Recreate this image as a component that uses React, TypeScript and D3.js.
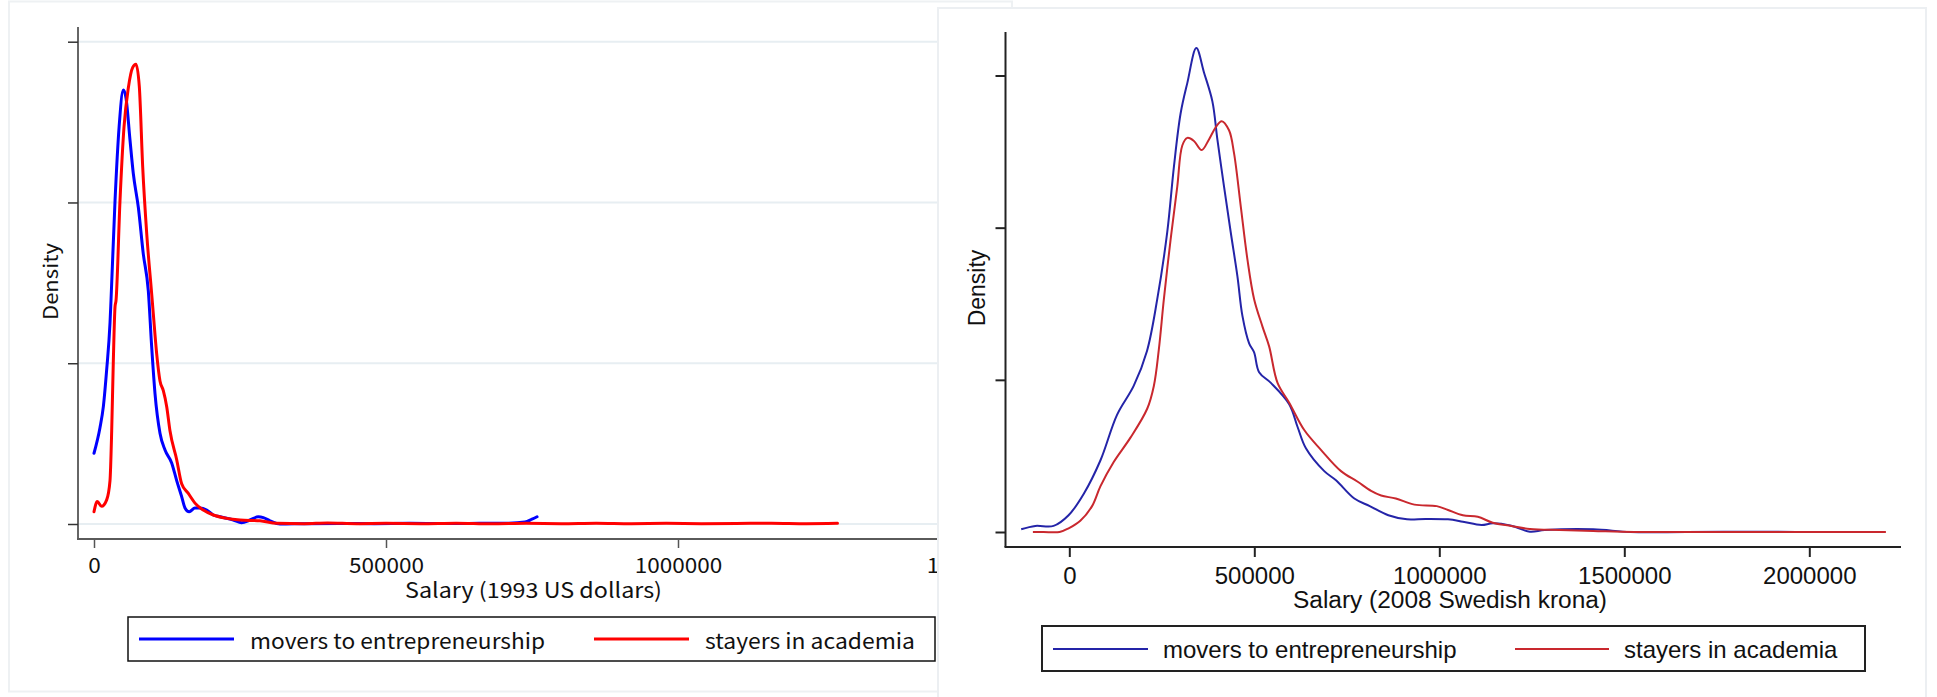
import React, { useEffect, useRef } from 'react';
import * as d3 from 'd3';

// left panel: 1993 US dollars (density in arbitrary units, ticks unlabeled)
const leftMoversX = [0, 10300, 16000, 21700, 27400, 29100, 36000, 43000, 50200, 54800, 61600, 67300, 75900, 84400, 93000, 98800, 104500, 113000, 121600, 133000, 141600, 150100, 155800, 163000, 172900, 181500, 192900, 204300, 215800, 238500, 252800, 267000, 281300, 290000, 301400, 318500, 360000, 420000, 480000, 540000, 600000, 660000, 710000, 738000, 750000, 758600];
const leftMoversY = [0.44, 0.6, 0.73, 0.96, 1.25, 1.39, 2.01, 2.47, 2.7, 2.65, 2.39, 2.18, 1.97, 1.68, 1.45, 1.1, 0.81, 0.565, 0.46, 0.38, 0.27, 0.17, 0.1, 0.076, 0.1, 0.1, 0.087, 0.056, 0.045, 0.025, 0.008, 0.025, 0.045, 0.04, 0.02, 0.0, 0.002, 0.003, 0.002, 0.004, 0.003, 0.004, 0.005, 0.012, 0.03, 0.045];

const leftStayersX = [0, 5600, 13000, 21700, 27400, 30300, 33000, 36000, 37700, 44500, 51400, 58700, 66300, 71900, 77600, 83400, 90200, 98800, 101500, 107300, 113000, 118700, 124500, 130100, 141600, 150100, 161500, 172900, 187100, 204300, 227200, 250000, 284200, 312800, 360000, 400000, 450000, 500000, 560000, 620000, 680000, 740000, 800000, 860000, 920000, 980000, 1040000, 1100000, 1160000, 1220000, 1273000];
const leftStayersY = [0.076, 0.14, 0.11, 0.15, 0.27, 0.58, 1.0, 1.35, 1.39, 2.01, 2.47, 2.71, 2.84, 2.86, 2.72, 2.22, 1.81, 1.43, 1.31, 1.06, 0.89, 0.83, 0.73, 0.58, 0.4, 0.25, 0.19, 0.13, 0.087, 0.056, 0.035, 0.025, 0.02, 0.004, 0.002, 0.006, 0.002, 0.004, 0.002, 0.005, 0.001, 0.004, 0.002, 0.005, 0.002, 0.004, 0.002, 0.003, 0.005, 0.002, 0.004];

const leftXTicks = [0, 500000, 1000000, 1500000];
const leftYTicks = [0, 1, 2, 3];

// right panel: 2008 Swedish krona
const rightMoversX = [-130000, -92000, -42500, -2000, 38800, 84000, 129000, 174000, 210000, 237700, 264700, 282700, 300800, 318900, 343300, 364000, 386700, 400200, 418200, 436300, 454400, 467900, 486000, 499500, 513000, 544700, 594300, 617000, 639500, 689100, 720800, 770400, 812000, 862300, 912700, 962900, 1023500, 1063700, 1114000, 1144400, 1194800, 1244900, 1285400, 1416200, 1517000, 1668000, 1899000, 1965000];
const rightMoversY = [0.018, 0.04, 0.04, 0.11, 0.25, 0.47, 0.77, 0.96, 1.19, 1.53, 1.97, 2.4, 2.75, 2.95, 3.18, 3.02, 2.83, 2.58, 2.27, 1.97, 1.68, 1.42, 1.24, 1.18, 1.05, 0.98, 0.84, 0.69, 0.55, 0.4, 0.34, 0.22, 0.17, 0.11, 0.083, 0.086, 0.083, 0.068, 0.046, 0.057, 0.041, 0.002, 0.013, 0.018, 0.0, 0.0, 0.002, 0.0];

const rightStayersX = [-98400, -69600, -26300, -1900, 29800, 61500, 84000, 120000, 165300, 210500, 228500, 242000, 255600, 273700, 291800, 305400, 318900, 336900, 357700, 377500, 395700, 411900, 431700, 445200, 463400, 481500, 499500, 522100, 540100, 562800, 594300, 635000, 680100, 734300, 779500, 815600, 842700, 882400, 932800, 993200, 1023500, 1063700, 1104000, 1144400, 1194800, 1244900, 1325600, 1416200, 1527000, 1768800, 2207000];
const rightStayersY = [0, 0, 0, 0.024, 0.074, 0.17, 0.3, 0.46, 0.62, 0.81, 0.96, 1.2, 1.53, 1.92, 2.27, 2.54, 2.59, 2.57, 2.51, 2.58, 2.66, 2.7, 2.64, 2.49, 2.14, 1.79, 1.53, 1.35, 1.22, 0.98, 0.85, 0.67, 0.54, 0.4, 0.33, 0.27, 0.24, 0.22, 0.18, 0.17, 0.145, 0.11, 0.1, 0.061, 0.04, 0.02, 0.013, 0.007, 0, 0, 0];

const rightXTicks = [0, 500000, 1000000, 1500000, 2000000];
const rightYTicks = [0, 1, 2, 3];

const seriesNames = ['movers to entrepreneurship', 'stayers in academia'];

const W = 1937;
const H = 697;
const jpFont = '"Noto Sans CJK JP", "Noto Sans", sans-serif';
const arial = '"Liberation Sans", Arial, sans-serif';

const zip = (xs: number[], ys: number[]) => xs.map((x, i) => [x, ys[i]] as [number, number]);

const App = () => {
  const svgRef = useRef<SVGSVGElement>(null);

  useEffect(() => {
    const svg = d3.select(svgRef.current);
    svg.selectAll('*').remove();

    // panel frames
    svg.append('rect').attr('x', 9).attr('y', 1.5).attr('width', 1003).attr('height', 690)
      .attr('fill', '#fff').attr('stroke', '#eef1f3').attr('stroke-width', 2);

    // ---------- left panel ----------
    svg.append('clipPath').attr('id', 'clipL')
      .append('rect').attr('x', 0).attr('y', 0).attr('width', 938).attr('height', H);
    const gL = svg.append('g').attr('clip-path', 'url(#clipL)');

    const xL = d3.scaleLinear().domain([0, 1000000]).range([94, 678]);
    const yL = d3.scaleLinear().domain([0, 3]).range([524, 41.7]);

    gL.selectAll('.grid').data(leftYTicks).enter().append('line')
      .attr('x1', 79).attr('x2', 937)
      .attr('y1', d => yL(d)).attr('y2', d => yL(d))
      .attr('stroke', '#e7eef2').attr('stroke-width', 2);

    const lineL = d3.line<[number, number]>()
      .x(d => xL(d[0])).y(d => yL(d[1]))
      .curve(d3.curveMonotoneX);

    gL.append('path').datum(zip(leftMoversX, leftMoversY))
      .attr('d', lineL).attr('fill', 'none').attr('stroke', '#0000ff')
      .attr('stroke-width', 3).attr('stroke-linejoin', 'round').attr('stroke-linecap', 'round');
    gL.append('path').datum(zip(leftStayersX, leftStayersY))
      .attr('d', lineL).attr('fill', 'none').attr('stroke', '#ff0000')
      .attr('stroke-width', 3).attr('stroke-linejoin', 'round').attr('stroke-linecap', 'round');

    // y axis
    const yAxL = gL.append('g').attr('transform', 'translate(78,0)')
      .call(d3.axisLeft(yL).tickValues(leftYTicks).tickSize(10).tickSizeOuter(0).tickFormat(() => ''));
    yAxL.select('.domain').remove();
    yAxL.selectAll('line').attr('stroke', '#333').attr('stroke-width', 1.5);
    gL.append('line').attr('x1', 78).attr('x2', 78).attr('y1', 27).attr('y2', 539)
      .attr('stroke', '#333').attr('stroke-width', 1.5);

    // x axis
    const xAxL = gL.append('g').attr('transform', 'translate(0,539)')
      .call(d3.axisBottom(xL).tickValues(leftXTicks).tickSize(9).tickSizeOuter(0).tickFormat(d3.format('d')));
    xAxL.select('.domain').remove();
    xAxL.selectAll('line').attr('stroke', '#555').attr('stroke-width', 1.5);
    xAxL.selectAll('text')
      .attr('y', 34).attr('dy', null)
      .attr('font-family', jpFont).attr('font-size', 21).attr('fill', '#111')
      .attr('textLength', (d: any) => String(d).length * 12.5)
      .attr('lengthAdjust', 'spacingAndGlyphs');
    gL.append('line').attr('x1', 77).attr('x2', 937).attr('y1', 539).attr('y2', 539)
      .attr('stroke', '#5a5a5a').attr('stroke-width', 2);

    gL.append('text').attr('x', 533.5).attr('y', 598).attr('text-anchor', 'middle')
      .attr('font-family', jpFont).attr('font-size', 21).attr('fill', '#111')
      .attr('textLength', 257).attr('lengthAdjust', 'spacingAndGlyphs')
      .text('Salary (1993 US dollars)');

    gL.append('text').attr('transform', 'translate(58,281.5) rotate(-90)')
      .attr('text-anchor', 'middle').attr('font-family', jpFont).attr('font-size', 20)
      .attr('fill', '#111').attr('textLength', 77).attr('lengthAdjust', 'spacingAndGlyphs')
      .text('Density');

    // legend
    gL.append('rect').attr('x', 128).attr('y', 617).attr('width', 807).attr('height', 44)
      .attr('fill', '#fff').attr('stroke', '#111').attr('stroke-width', 1.5);
    const legL = [
      { x1: 139, x2: 234, tx: 250, tl: 295, color: '#0000ff' },
      { x1: 594, x2: 689, tx: 705, tl: 210, color: '#ff0000' },
    ];
    legL.forEach((l, i) => {
      gL.append('line').attr('x1', l.x1).attr('x2', l.x2).attr('y1', 639).attr('y2', 639)
        .attr('stroke', l.color).attr('stroke-width', 3);
      gL.append('text').attr('x', l.tx).attr('y', 649)
        .attr('font-family', jpFont).attr('font-size', 21).attr('fill', '#111')
        .attr('textLength', l.tl).attr('lengthAdjust', 'spacingAndGlyphs')
        .text(seriesNames[i]);
    });

    // ---------- right panel ----------
    svg.append('rect').attr('x', 938).attr('y', 8).attr('width', 988).attr('height', 700)
      .attr('fill', '#fff').attr('stroke', '#eceff2').attr('stroke-width', 2);
    const gR = svg.append('g');

    const xR = d3.scaleLinear().domain([0, 1000000]).range([1069.3, 1439.3]);
    const yR = d3.scaleLinear().domain([0, 3]).range([532, 75.5]);

    const lineR = d3.line<[number, number]>()
      .x(d => xR(d[0])).y(d => yR(d[1]))
      .curve(d3.curveCatmullRom.alpha(0.5));

    gR.append('path').datum(zip(rightMoversX, rightMoversY))
      .attr('d', lineR).attr('fill', 'none').attr('stroke', '#2424a8')
      .attr('stroke-width', 2).attr('stroke-linejoin', 'round');
    gR.append('path').datum(zip(rightStayersX, rightStayersY))
      .attr('d', lineR).attr('fill', 'none').attr('stroke', '#c9282e')
      .attr('stroke-width', 2).attr('stroke-linejoin', 'round');

    const yAxR = gR.append('g').attr('transform', 'translate(1005.5,0)')
      .call(d3.axisLeft(yR).tickValues(rightYTicks).tickSize(10).tickSizeOuter(0).tickFormat(() => ''));
    yAxR.select('.domain').remove();
    yAxR.selectAll('line').attr('stroke', '#222').attr('stroke-width', 2);
    gR.append('line').attr('x1', 1005.5).attr('x2', 1005.5).attr('y1', 32).attr('y2', 547)
      .attr('stroke', '#222').attr('stroke-width', 2);

    const xAxR = gR.append('g').attr('transform', 'translate(0,547)')
      .call(d3.axisBottom(xR).tickValues(rightXTicks).tickSize(10).tickSizeOuter(0).tickFormat(d3.format('d')));
    xAxR.select('.domain').remove();
    xAxR.selectAll('line').attr('stroke', '#222').attr('stroke-width', 2);
    xAxR.selectAll('text')
      .attr('y', 37).attr('dy', null)
      .attr('font-family', arial).attr('font-size', 24).attr('fill', '#111');
    gR.append('line').attr('x1', 1004.5).attr('x2', 1901).attr('y1', 547).attr('y2', 547)
      .attr('stroke', '#222').attr('stroke-width', 2);

    gR.append('text').attr('x', 1450).attr('y', 608).attr('text-anchor', 'middle')
      .attr('font-family', arial).attr('font-size', 23).attr('fill', '#111')
      .attr('textLength', 314).attr('lengthAdjust', 'spacingAndGlyphs')
      .text('Salary (2008 Swedish krona)');

    gR.append('text').attr('transform', 'translate(985,288) rotate(-90)')
      .attr('text-anchor', 'middle').attr('font-family', arial).attr('font-size', 23)
      .attr('fill', '#111').text('Density');

    gR.append('rect').attr('x', 1042).attr('y', 626).attr('width', 823).attr('height', 45)
      .attr('fill', '#fff').attr('stroke', '#222').attr('stroke-width', 2);
    const legR = [
      { x1: 1053, x2: 1148, tx: 1163, color: '#2424a8' },
      { x1: 1515, x2: 1609, tx: 1624, color: '#c9282e' },
    ];
    legR.forEach((l, i) => {
      gR.append('line').attr('x1', l.x1).attr('x2', l.x2).attr('y1', 649).attr('y2', 649)
        .attr('stroke', l.color).attr('stroke-width', 2);
      gR.append('text').attr('x', l.tx).attr('y', 658)
        .attr('font-family', arial).attr('font-size', 24).attr('fill', '#111')
        .text(seriesNames[i]);
    });
  }, []);

  return (
    <svg
      ref={svgRef}
      width={W}
      height={H}
      style={{ position: 'absolute', left: 0, top: 0, display: 'block', background: '#fff' }}
    ></svg>
  );
};

export default App;
